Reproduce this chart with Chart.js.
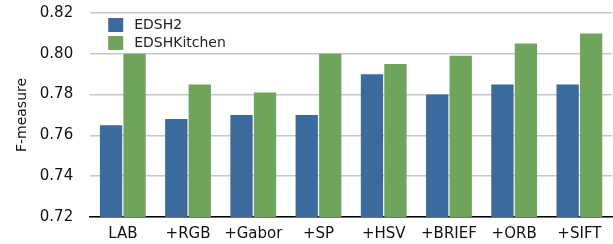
<!DOCTYPE html>
<html>
<head>
<meta charset="utf-8">
<script src="https://cdn.jsdelivr.net/npm/chart.js@4"></script>
<style>
html,body{margin:0;padding:0;background:#fff;}
#wrap{width:613px;height:244px;}
</style>
</head>
<body>
<div id="wrap"><canvas id="c" width="613" height="244"></canvas></div>
<script>
const categories = ["LAB", "+RGB", "+Gabor", "+SP", "+HSV", "+BRIEF", "+ORB", "+SIFT"];
const edsh2 = [0.765, 0.768, 0.770, 0.770, 0.790, 0.780, 0.785, 0.785];
const edshKitchen = [0.800, 0.785, 0.781, 0.800, 0.795, 0.799, 0.805, 0.810];
const seriesNames = ["EDSH2", "EDSHKitchen"];
const yTicks = [0.72, 0.74, 0.76, 0.78, 0.80, 0.82];

const FONT = "'DejaVu Sans', sans-serif";

const insideLegend = {
  id: 'insideLegend',
  afterDraw(chart) {
    const ctx = chart.ctx;
    const ca = chart.chartArea;
    ctx.save();
    ctx.font = "14px " + FONT;
    ctx.textBaseline = 'middle';
    chart.data.datasets.forEach((ds, i) => {
      const x = ca.left + 18;
      const y = ca.top + 5 + i * 18;
      ctx.fillStyle = ds.backgroundColor;
      ctx.fillRect(x, y, 15, 14);
      ctx.fillStyle = '#222';
      ctx.fillText(ds.label, x + 26, y + 7);
    });
    ctx.restore();
  }
};

new Chart(document.getElementById('c'), {
  type: 'bar',
  data: {
    labels: categories,
    datasets: [
      { label: seriesNames[0], data: edsh2, backgroundColor: '#3c6a9c' },
      { label: seriesNames[1], data: edshKitchen, backgroundColor: '#6ea55a' }
    ]
  },
  options: {
    responsive: false,
    animation: false,
    devicePixelRatio: 1,
    layout: { padding: { top: 13, right: 1, left: 14, bottom: -7 } },
    plugins: { legend: { display: false }, tooltip: { enabled: false } },
    datasets: { bar: { categoryPercentage: 0.72, barPercentage: 0.95 } },
    scales: {
      x: {
        grid: { display: false, drawTicks: false },
        border: { display: true, color: '#000', width: 1.5 },
        ticks: { color: '#111', font: { family: FONT, size: 15 }, padding: 8 }
      },
      y: {
        min: 0.72, max: 0.82,
        afterBuildTicks(axis) { axis.ticks = yTicks.map(v => ({ value: v })); },
        afterFit(axis) { axis.paddingTop = 0; axis.paddingBottom = 0; },
        grid: { color: '#c8c8c8', lineWidth: 1.5, drawTicks: false },
        border: { display: false },
        ticks: {
          color: '#111', font: { family: FONT, size: 15 }, padding: 17,
          callback: v => v.toFixed(2)
        },
        title: { display: true, text: 'F-measure', color: '#111', font: { family: FONT, size: 14 }, padding: { top: 0, bottom: -8 } }
      }
    }
  },
  plugins: [insideLegend]
});
</script>
</body>
</html>
